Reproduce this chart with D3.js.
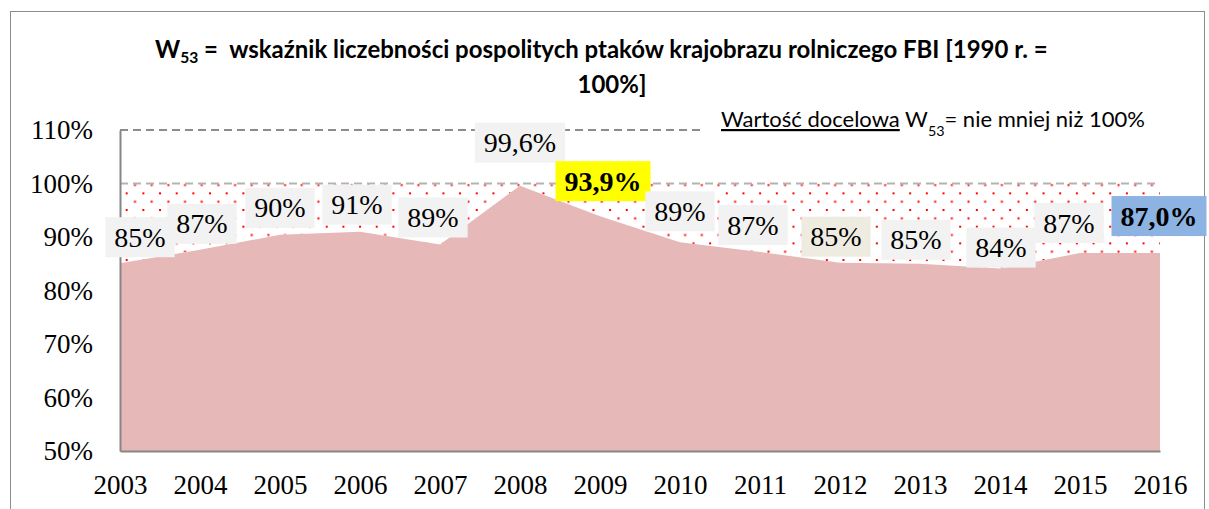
<!DOCTYPE html>
<html>
<head>
<meta charset="utf-8">
<style>
    body { margin: 0; background: white; }
    svg { display: block; }
    .tick-label { font-family: 'Liberation Serif', serif; font-size: 27px; fill: #000; }
    .data-label { font-family: 'Liberation Serif', serif; font-size: 28px; fill: #000; }
    .title { font-family: Lato, 'Open Sans', sans-serif; font-weight: bold; fill: #000; white-space: pre; }
    .note { font-family: Lato, 'Open Sans', sans-serif; fill: #000; }
</style>
</head>
<body>
<svg width="1209" height="509"></svg>

<script src="https://d3js.org/d3.v7.min.js"></script>
<script>
    // values
    const years = [2003, 2004, 2005, 2006, 2007, 2008, 2009, 2010, 2011, 2012, 2013, 2014, 2015, 2016];
    const fbi = [85.1, 87.6, 90.4, 91.0, 88.6, 99.6, 93.9, 89.0, 87.2, 85.2, 85.0, 84.1, 87.0, 87.0];
    const labelTexts = ["85%", "87%", "90%", "91%", "89%", "99,6%", "93,9%", "89%", "87%", "85%", "85%", "84%", "87%", "87,0%"];
    const yTicks = [50, 60, 70, 80, 90, 100, 110];
    const target = 100;

    // label layout (offset of the box centre from the point, px) and box colours
    const labelDx = [20, 2, 0, -3, -7, 0, 3, 0, -7, -4, -4, 1, -11, -1];
    const labelDy = [-26, -26, -27, -27, -27, -43, -35, -31, -27, -26, -24, -21, -30, -37];
    const labelFill = ["#f2f2f2", "#f2f2f2", "#f2f2f2", "#f2f2f2", "#f2f2f2", "#f2f2f2", "#ffff00",
        "#f2f2f2", "#f2f2f2", "#eeece1", "#f2f2f2", "#f2f2f2", "#f2f2f2", "#8db3e2"];
    const labelBold = [false, false, false, false, false, false, true, false, false, false, false, false, false, true];

    const data = years.map((y, i) => ({ year: y, value: fbi[i] }));

    const svg = d3.select("svg");

    const x = d3.scaleLinear().domain([2003, 2016]).range([120, 1160]);
    const y = d3.scaleLinear().domain([50, 110]).range([451, 130]);

    // chart border
    svg.append("rect")
        .attr("x", 10.5).attr("y", 11.5)
        .attr("width", 1194).attr("height", 520)
        .attr("fill", "none")
        .attr("stroke", "#8c8c8c")
        .attr("stroke-width", 1);

    // dotted pattern
    const defs = svg.append("defs");
    const pat = defs.append("pattern")
        .attr("id", "dots")
        .attr("patternUnits", "userSpaceOnUse")
        .attr("x", 9).attr("y", 9)
        .attr("width", 16.67).attr("height", 16.67);
    pat.append("rect").attr("x", 0).attr("y", 0).attr("width", 2).attr("height", 2).attr("fill", "#ff0000");
    pat.append("rect").attr("x", 8.33).attr("y", 8.33).attr("width", 2).attr("height", 2).attr("fill", "#ff0000");

    // gap between the index and the 100% target, dotted
    const gap = d3.area()
        .x(d => x(d.year))
        .y0(d => y(d.value))
        .y1(() => y(target));

    svg.append("path")
        .datum(data)
        .attr("d", gap)
        .attr("fill", "url(#dots)");

    // the index itself
    const area = d3.area()
        .x(d => x(d.year))
        .y0(y(50))
        .y1(d => y(d.value));

    svg.append("path")
        .datum(data)
        .attr("d", area)
        .attr("fill", "#e6b8b7");

    // dashed reference lines
    svg.append("line")
        .attr("x1", x(2003)).attr("x2", 702)
        .attr("y1", y(110)).attr("y2", y(110))
        .attr("stroke", "#8c8c8c").attr("stroke-width", 2)
        .attr("stroke-dasharray", "8,5");

    svg.append("line")
        .attr("x1", x(2003)).attr("x2", x(2016))
        .attr("y1", y(target)).attr("y2", y(target))
        .attr("stroke", "#b3b3b3").attr("stroke-width", 2)
        .attr("stroke-dasharray", "8,5");

    // axes
    const yAxis = svg.append("g")
        .attr("transform", `translate(${x(2003)},0)`)
        .call(d3.axisLeft(y).tickValues(yTicks).tickSize(0).tickPadding(27)
            .tickFormat(d => d + "%"));
    yAxis.select(".domain").attr("stroke", "#868686").attr("stroke-width", 2);
    yAxis.selectAll("text").attr("class", "tick-label").attr("font-size", null).attr("font-family", null);

    const xAxis = svg.append("g")
        .attr("transform", `translate(0,${y(50)})`)
        .call(d3.axisBottom(x).tickValues(years).tickSize(0).tickPadding(24)
            .tickFormat(d3.format("d")));
    xAxis.select(".domain").attr("stroke", "#868686").attr("stroke-width", 2);
    xAxis.selectAll("text").attr("class", "tick-label").attr("font-size", null).attr("font-family", null);

    // data labels
    const labels = svg.selectAll(".lbl")
        .data(data)
        .join("g")
        .attr("class", "lbl")
        .attr("transform", (d, i) => `translate(${x(d.year) + labelDx[i]},${y(d.value) + labelDy[i]})`);

    labels.append("text")
        .attr("class", "data-label")
        .attr("text-anchor", "middle")
        .attr("dy", "0.34em")
        .attr("font-weight", (d, i) => labelBold[i] ? "bold" : "normal")
        .text((d, i) => labelTexts[i]);

    labels.insert("rect", "text")
        .attr("fill", (d, i) => labelFill[i])
        .each(function () {
            const w = this.parentNode.querySelector("text").getComputedTextLength();
            d3.select(this)
                .attr("x", -w / 2 - 9)
                .attr("y", -20)
                .attr("width", w + 18)
                .attr("height", 40);
        });

    // title
    function fit(sel, width) {
        const fs = parseFloat(sel.attr("font-size"));
        const w = sel.node().getComputedTextLength();
        sel.attr("font-size", fs * width / w);
    }

    const t1 = svg.append("text")
        .attr("class", "title")
        .attr("x", 155).attr("y", 58)
        .attr("font-size", 21);
    t1.append("tspan").text("W");
    t1.append("tspan").attr("font-size", "0.65em").attr("dy", 5).text("53");
    t1.append("tspan").attr("dy", -5).text(" =  wskaźnik liczebności pospolitych ptaków krajobrazu rolniczego FBI [1990 r. =");
    fit(t1, 893);

    svg.append("text")
        .attr("class", "title")
        .attr("x", 612).attr("y", 93)
        .attr("text-anchor", "middle")
        .attr("font-size", t1.attr("font-size"))
        .text("100%]");

    // target note
    const note = svg.append("text")
        .attr("class", "note")
        .attr("x", 721).attr("y", 127)
        .attr("font-size", 20);
    note.append("tspan").attr("text-decoration", "underline").text("Wartość docelowa");
    note.append("tspan").text(" W");
    note.append("tspan").attr("font-size", "0.65em").attr("dy", 9).text("53");
    note.append("tspan").attr("dy", -9).text("= nie mniej niż 100%");
    fit(note, 424);
</script>
</body>
</html>
